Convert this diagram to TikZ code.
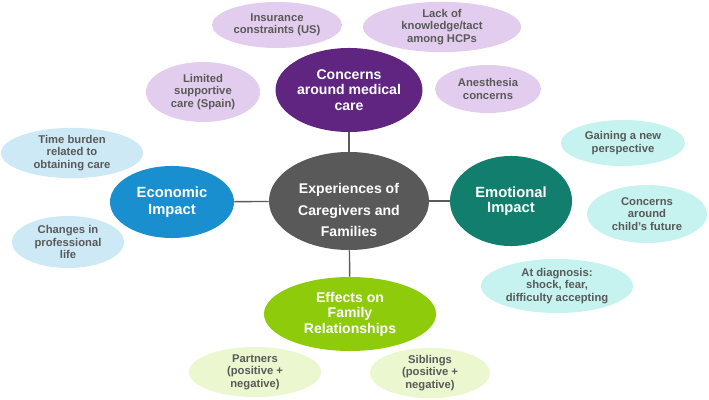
\documentclass[tikz,border=0pt]{standalone}
\usepackage{fontspec}
\setmainfont{Liberation Sans}
\usepackage{tikz}
\usetikzlibrary{shapes.geometric}

\definecolor{hubgray}{HTML}{595959}
\definecolor{carepurple}{HTML}{5F2580}
\definecolor{carelight}{HTML}{E2CDEE}
\definecolor{econblue}{HTML}{1A8FD0}
\definecolor{econlight}{HTML}{CDE9F6}
\definecolor{emoteal}{HTML}{127F6E}
\definecolor{emolight}{HTML}{C6F3EF}
\definecolor{famgreen}{HTML}{8DCB0B}
\definecolor{famlight}{HTML}{EBF7CE}

\begin{document}
\begin{tikzpicture}[
    x=0.025cm,
    y=-0.025cm,
    link/.style={
        draw=hubgray,
        line width=1pt
    },
    ellsize/.style 2 args={
        minimum width=#1*0.05cm,
        minimum height=#2*0.05cm
    },
    mainop/.style={
        ellipse,
        inner sep=0pt,
        align=center,
        text=white,
        font=\fontsize{10}{11}\selectfont\bfseries
    },
    leafop/.style={
        ellipse,
        inner sep=0pt,
        align=center,
        text=hubgray,
        font=\fontsize{8}{8.9}\selectfont\bfseries
    }
]
\useasboundingbox (0,0) rectangle (709,400);

% ============================================================
% Hub
% ============================================================
\node[mainop, fill=hubgray, ellsize={80}{49},
      label={[align=center, text=white, yshift=-6.5pt,
              font=\fontsize{10}{15.5}\selectfont\bfseries]
             center:Experiences of\\Caregivers and\\Families}]
    (hub) at (349,201) {};

% ------------------------------------------------------------
% 1. Concerns around medical care
% ------------------------------------------------------------
\node[mainop, fill=carepurple, ellsize={73}{42}]
    (mc-main) at (349,90) {Concerns\\around medical\\care};

\node[leafop, fill=carelight, ellsize={65}{23}]
    (mc-insurance) at (277,25) {Insurance\\constraints (US)};
\node[leafop, fill=carelight, ellsize={79}{25}]
    (mc-tact) at (442,27) {Lack of\\knowledge/tact\\among HCPs};
\node[leafop, fill=carelight, ellsize={57}{30}]
    (mc-support) at (203,92) {Limited\\supportive\\care (Spain)};
\node[leafop, fill=carelight, ellsize={53}{24}]
    (mc-anesthesia) at (488,89) {Anesthesia\\concerns};

% ------------------------------------------------------------
% 2. Economic impact
% ------------------------------------------------------------
\node[mainop, fill=econblue, ellsize={62}{36},
      font=\fontsize{10.5}{12.5}\selectfont\bfseries]
    (ec-main) at (172,202) {Economic\\Impact};

\node[leafop, fill=econlight, ellsize={71}{23}]
    (ec-time) at (72,153) {Time burden\\related to\\obtaining care};
\node[leafop, fill=econlight, ellsize={56}{26}]
    (ec-career) at (68,242) {Changes in\\professional\\life};

% ------------------------------------------------------------
% 3. Emotional impact
% ------------------------------------------------------------
\node[mainop, fill=emoteal, ellsize={61}{45},
      font=\fontsize{10.5}{11}\selectfont\bfseries]
    (em-main) at (511,201) {Emotional\\Impact};

\node[leafop, fill=emolight, ellsize={62}{23}]
    (em-perspective) at (623,143) {Gaining a new\\perspective};
\node[leafop, fill=emolight, ellsize={60}{29}]
    (em-future) at (647,214) {Concerns\\around\\child’s future};
\node[leafop, fill=emolight, ellsize={76}{27}]
    (em-diagnosis) at (557,286) {At diagnosis:\\shock, fear,\\difficulty accepting};

% ------------------------------------------------------------
% 4. Effects on family relationships
% ------------------------------------------------------------
\node[mainop, fill=famgreen, ellsize={86}{37}]
    (fa-main) at (350,314) {Effects on\\Family\\Relationships};

\node[leafop, fill=famlight, ellsize={66}{25}]
    (fa-partners) at (255,372) {Partners\\(positive +\\negative)};
\node[leafop, fill=famlight, ellsize={60}{24}]
    (fa-siblings) at (430,373) {Siblings\\(positive +\\negative)};

% Hub links
\draw[link] (hub) -- (mc-main);
\draw[link] (hub) -- (ec-main);
\draw[link] (hub) -- (em-main);
\draw[link] (hub) -- (fa-main);

\end{tikzpicture}
\end{document}
